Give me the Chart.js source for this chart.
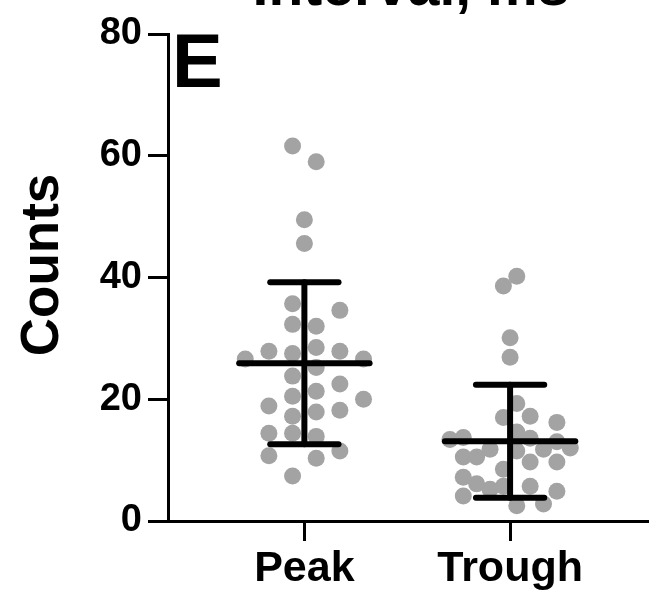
<!DOCTYPE html>
<html lang="en">
<head>
  <meta charset="UTF-8" />
  <title>Counts - Peak vs Trough</title>
  <script src="https://cdn.jsdelivr.net/npm/chart.js"></script>
  <style>
    body { margin: 0; background: white; }
    #wrap { width: 656px; height: 593px; }
  </style>
</head>
<body>
  <div id="wrap"><canvas id="chart" width="656" height="593"></canvas></div>

  <script>
    // data
    const categories = ["Peak", "Trough"];
    const yTicks = [0, 20, 40, 60, 80];

    const peakValues = [61.6, 59.0, 49.5, 45.6, 35.7, 34.6, 32.3, 32.0, 26.6, 27.9, 27.5, 28.5, 27.9, 26.6, 25.2,
      23.8, 22.5, 21.3, 20.5, 20.0, 18.9, 17.9, 18.2, 17.2, 14.4, 14.4, 13.9, 11.5, 10.7, 10.3, 7.4];
    // column slot of each dot in the swarm
    const peakSlots = [-0.5, 0.5, 0, 0, -0.5, 1.5, -0.5, 0.5, -2.5, -1.5, -0.5, 0.5, 1.5, 2.5, 0.5,
      -0.5, 1.5, 0.5, -0.5, 2.5, -1.5, 0.5, 1.5, -0.5, -1.5, -0.5, 0.5, 1.5, -1.5, 0.5, -0.5];

    const troughValues = [40.2, 38.6, 30.1, 26.9, 19.3, 17.0, 17.2, 16.2, 13.4, 13.7, 14.6, 13.6, 13.0, 12.0, 10.5,
      10.5, 11.8, 11.5, 11.8, 9.7, 9.7, 8.5, 7.2, 6.1, 5.2, 5.7, 5.7, 4.9, 4.1, 2.5, 2.8];
    const troughSlots = [0.5, -0.5, 0, 0, 0.5, -0.5, 1.5, 3.5, -4.5, -3.5, 0.5, 1.5, 3.5, 4.5, -3.5,
      -2.5, -1.5, 0.5, 2.5, 1.5, 3.5, -0.5, -3.5, -2.5, -1.5, -0.5, 1.5, 3.5, -3.5, 0.5, 2.5];

    const means = [25.9, 13.1];
    const sds = [13.3, 9.3];

    const slotWidth = [0.115, 0.065];
    const dotColor = "#a3a3a3";
    const fontFam = "'Liberation Sans', Arial, sans-serif";

    function dots(values, slots, cat, w) {
      return values.map((v, i) => ({ x: cat + slots[i] * w, y: v }));
    }

    function seg(x1, x2, y1, y2) {
      return {
        type: "scatter",
        data: [{ x: x1, y: y1 }, { x: x2, y: y2 }],
        showLine: true,
        borderColor: "#000",
        borderWidth: 6,
        borderCapStyle: "round",
        pointRadius: 0,
        pointHoverRadius: 0,
        order: 0
      };
    }

    const datasets = [
      {
        data: dots(peakValues, peakSlots, 1, slotWidth[0]),
        backgroundColor: dotColor, borderWidth: 0, pointRadius: 8.5, order: 1
      },
      {
        data: dots(troughValues, troughSlots, 2, slotWidth[1]),
        backgroundColor: dotColor, borderWidth: 0, pointRadius: 8.5, order: 1
      }
    ];

    // mean +/- SD bars
    means.forEach((m, i) => {
      const c = i + 1;
      datasets.push(seg(c - 0.317, c + 0.317, m, m));
      datasets.push(seg(c, c, m - sds[i], m + sds[i]));
      datasets.push(seg(c - 0.166, c + 0.166, m + sds[i], m + sds[i]));
      datasets.push(seg(c - 0.166, c + 0.166, m - sds[i], m - sds[i]));
    });

    // extra text: panel letter, y title, clipped top title
    const textPlugin = {
      id: "texts",
      afterDraw(chart) {
        const ctx = chart.ctx;
        ctx.save();
        ctx.fillStyle = "#000";
        ctx.font = "bold 76px " + fontFam;
        ctx.textAlign = "left";
        ctx.textBaseline = "alphabetic";
        ctx.fillText("E", 172, 87);

        ctx.font = "bold 57px " + fontFam;
        ctx.textAlign = "center";
        ctx.fillText("Interval, ms", 411, 5);

        ctx.translate(58, 265);
        ctx.rotate(-Math.PI / 2);
        ctx.font = "bold 53px " + fontFam;
        ctx.fillText("Counts", 0, 0);
        ctx.restore();
      }
    };

    new Chart(document.getElementById("chart"), {
      type: "scatter",
      data: { datasets: datasets },
      options: {
        responsive: false,
        animation: false,
        layout: { padding: { top: 34, right: 3, left: 0, bottom: 0 } },
        plugins: { legend: { display: false }, tooltip: { enabled: false } },
        scales: {
          x: {
            type: "linear",
            min: 0.337,
            max: 2.668,
            afterBuildTicks(scale) {
              scale.ticks = [{ value: 1 }, { value: 2 }];
            },
            afterFit(scale) { scale.height = 72; },
            ticks: {
              callback: (v) => categories[Math.round(v) - 1] || "",
              color: "#000",
              font: { family: fontFam, size: 43, weight: "bold" },
              padding: 2,
              maxRotation: 0,
              autoSkip: false
            },
            grid: { drawOnChartArea: false, color: "#000", lineWidth: 3, tickLength: 20 },
            border: { color: "#000", width: 3 }
          },
          y: {
            min: 0,
            max: 80,
            afterBuildTicks(scale) {
              scale.ticks = yTicks.map(v => ({ value: v }));
            },
            afterFit(scale) { scale.width = 168; },
            ticks: {
              color: "#000",
              font: { family: fontFam, size: 38, weight: "bold" },
              padding: 6
            },
            grid: { drawOnChartArea: false, color: "#000", lineWidth: 3, tickLength: 20 },
            border: { color: "#000", width: 3 }
          }
        }
      },
      plugins: [textPlugin]
    });
  </script>
</body>
</html>
